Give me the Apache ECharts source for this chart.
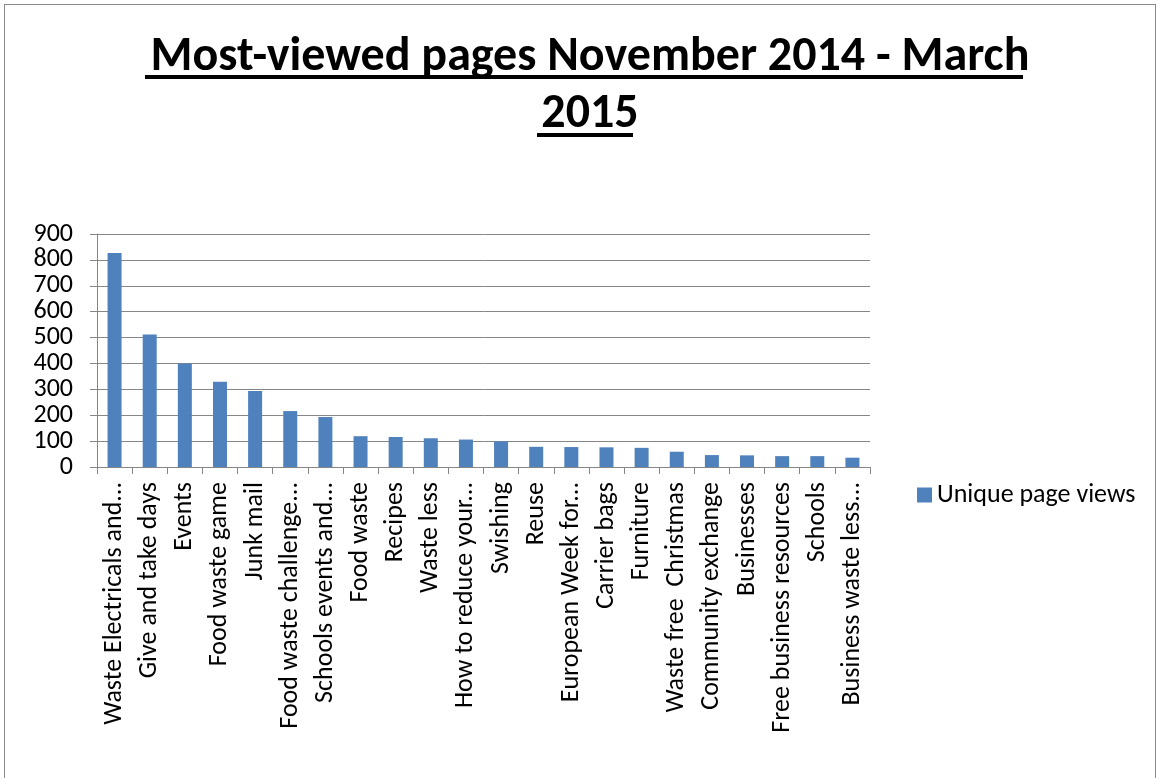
<!DOCTYPE html>
<html style="height: 100%">
<head>
    <meta charset="UTF-8">
    <script src="https://cdn.jsdelivr.net/npm/echarts@6/dist/echarts.min.js"></script>
</head>
<body style="height: 100%; margin: 0; background: #fff">
    <div style="position: absolute; left: 4px; top: 4px; width: 1150px; height: 800px; border: 1px solid #8a8a8a;"></div>
    <div id="main" style="position: absolute; left: 0; top: 0; width: 1158px; height: 778px;"></div>
    <script type="text/javascript">
        // page names as shown on the axis (Excel truncated the long ones)
        var pages = [
            'Waste Electricals and...', 'Give and take days', 'Events', 'Food waste game',
            'Junk mail', 'Food waste challenge...', 'Schools events and...', 'Food waste',
            'Recipes', 'Waste less', 'How to reduce your...', 'Swishing', 'Reuse',
            'European Week for...', 'Carrier bags', 'Furniture', 'Waste free  Christmas',
            'Community exchange', 'Businesses', 'Free business resources', 'Schools',
            'Business waste less...'
        ];
        var uniqueViews = [827, 512, 400, 329, 294, 216, 193, 119, 116, 111, 106, 99,
            78, 77, 76, 74, 59, 46, 45, 42, 42, 36];
        var seriesName = 'Unique page views';

        var font = 'Carlito, Lato, sans-serif';
        var myChart = echarts.init(document.getElementById('main'));

        var option = {
            animation: false,
            title: {
                text: 'Most-viewed pages November 2014 - March\n2015',
                left: 585,
                top: 24,
                textAlign: 'center',
                textStyle: {
                    fontFamily: font,
                    fontWeight: 'bold',
                    fontSize: 48,
                    lineHeight: 57,
                    color: '#000'
                }
            },
            // underline under both title lines
            graphic: [
                { type: 'rect', shape: { x: 145, y: 75, width: 878, height: 4 }, style: { fill: '#000' } },
                { type: 'rect', shape: { x: 537, y: 133, width: 96, height: 4 }, style: { fill: '#000' } }
            ],
            legend: {
                data: [seriesName],
                orient: 'vertical',
                left: 912,
                top: 477,
                itemWidth: 15,
                itemHeight: 15,
                itemGap: 8,
                icon: 'rect',
                textStyle: { fontFamily: font, fontSize: 26, color: '#000' }
            },
            grid: {
                left: 97,
                right: 288,
                top: 234,
                bottom: 311,
                containLabel: false
            },
            xAxis: {
                type: 'category',
                data: pages,
                axisLine: { lineStyle: { color: '#868686', width: 1 } },
                axisTick: { show: true, alignWithLabel: false, length: 7, lineStyle: { color: '#868686' } },
                axisLabel: {
                    rotate: 90,
                    interval: 0,
                    margin: 15,
                    fontFamily: font,
                    fontSize: 26,
                    color: '#000'
                }
            },
            yAxis: {
                type: 'value',
                min: 0,
                max: 900,
                interval: 100,
                axisLine: { show: true, lineStyle: { color: '#868686' } },
                axisTick: { show: true, length: 7, lineStyle: { color: '#868686' } },
                splitLine: { lineStyle: { color: '#868686', width: 1 } },
                axisLabel: {
                    margin: 24,
                    fontFamily: font,
                    fontSize: 26,
                    color: '#000'
                }
            },
            series: [{
                name: seriesName,
                type: 'bar',
                data: uniqueViews,
                barWidth: 14,
                itemStyle: { color: '#4f81bd' }
            }]
        };

        myChart.setOption(option);
    </script>
</body>
</html>
